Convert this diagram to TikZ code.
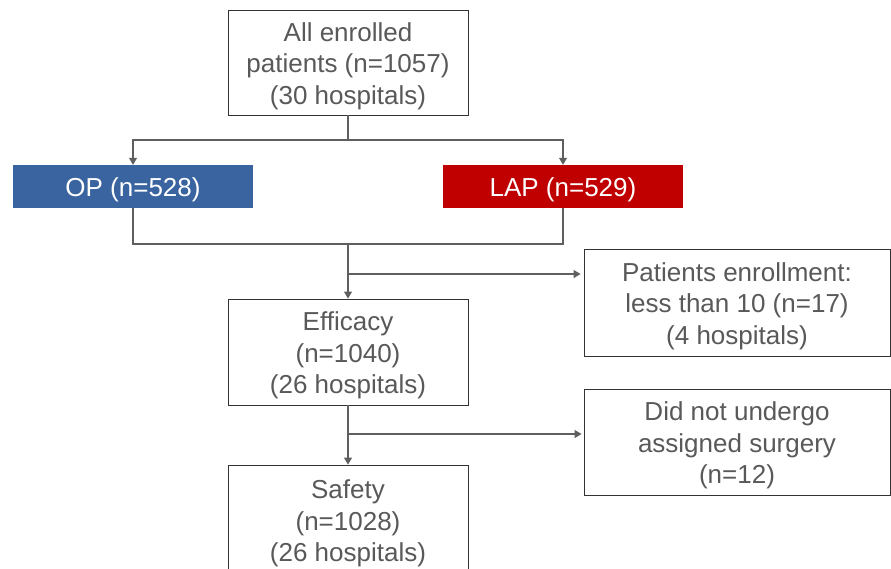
\documentclass[tikz,border=0pt]{standalone}
\usepackage{fontspec}
\setmainfont{Liberation Sans}
\usetikzlibrary{arrows.meta}
\definecolor{txtgray}{HTML}{595959}
\definecolor{linegray}{HTML}{5F5F5F}
\definecolor{opblue}{HTML}{3A64A0}
\definecolor{lapred}{HTML}{C00000}
\begin{document}
\begin{tikzpicture}[x=1pt,y=-1pt,
  box/.style={draw=black!80,line width=0.9pt,fill=white,inner sep=0pt},
  txt/.style={text=txtgray,align=center,inner sep=0pt,font=\fontsize{26}{31.5}\selectfont},
  groupbox/.style={draw=none,text=white,align=center,inner sep=0pt,
    minimum width=240pt,minimum height=43pt,font=\fontsize{26}{31.5}\selectfont,
    execute at begin node={\rule{0pt}{25pt}}},
  conn/.style={draw=linegray,line width=1.2pt},
  arr/.style={conn,-{Triangle[width=8pt,length=7pt]}}]
\useasboundingbox (0,0) rectangle (891,568);
\begin{scope}
\clip (0,0) rectangle (891,568);
\node[box,minimum width=240pt,minimum height=105pt] (top) at (348,62.5) {};
\node[txt] (toptxt) at ([yshift=-3.5pt]top.center) {All enrolled\\patients (n=1057)\\(30 hospitals)};
\node[groupbox,fill=opblue] (op) at (133,186.5) {OP (n=528)};
\node[groupbox,fill=lapred] (lap) at (563,186.5) {LAP (n=529)};
\node[box,minimum width=240pt,minimum height=106pt] (eff) at (348,352) {};
\node[txt] (efftxt) at ([yshift=-3.5pt]eff.center) {Efficacy\\(n=1040)\\(26 hospitals)};
\node[box,minimum width=306pt,minimum height=107pt] (pe) at (737,302.5) {};
\node[txt] (petxt) at ([yshift=-3.5pt]pe.center) {Patients enrollment:\\less than 10 (n=17)\\(4 hospitals)};
\node[box,minimum width=306pt,minimum height=106pt] (did) at (737,442) {};
\node[txt] (didtxt) at ([yshift=-3.5pt]did.center) {Did not undergo\\assigned surgery\\(n=12)};
\node[box,minimum width=240pt,minimum height=110pt] (saf) at (348,520) {};
\node[txt] (saftxt) at ([yshift=-3.5pt]saf.center) {Safety\\(n=1028)\\(26 hospitals)};

\coordinate (j1) at (348,140);
\coordinate (j2) at (348,244);
\coordinate (b1) at (348,274);
\coordinate (b2) at (348,434);

\draw[conn] (top.south) -- (j1);
\draw[arr] (j1) -| (op.north);
\draw[arr] (j1) -| (lap.north);
\draw[conn] (op.south) |- (j2) -| (lap.south);
\draw[arr] (j2) -- (eff.north);
\draw[arr,shorten >=3pt] (b1) -- (pe.west |- b1);
\draw[arr] (eff.south) -- (saf.north);
\draw[arr,shorten >=2pt] (b2) -- (did.west |- b2);
\end{scope}
\end{tikzpicture}
\end{document}
